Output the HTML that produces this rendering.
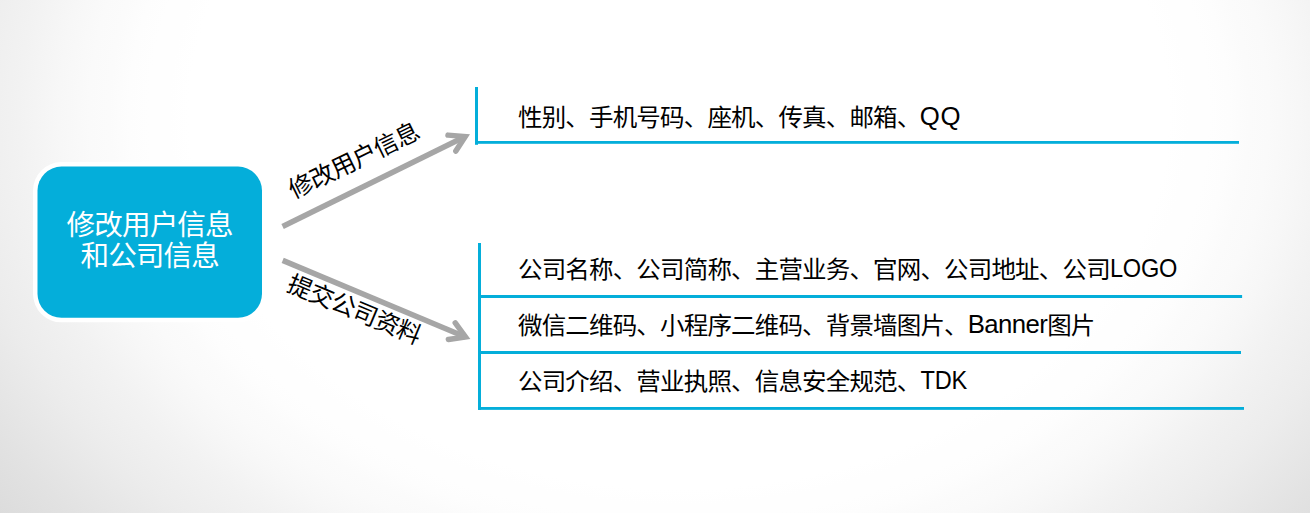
<!DOCTYPE html>
<html lang="zh-CN">
<head>
<meta charset="utf-8">
<title>修改用户信息和公司信息</title>
<style>
html,body{margin:0;padding:0;}
body{width:1310px;height:513px;overflow:hidden;position:relative;
  font-family:"Liberation Sans","Noto Sans CJK SC",sans-serif;
  background:#fff radial-gradient(ellipse 1000px 765.6px at 679px 114px,rgb(255,255,255) 0%,rgb(255,255,255) 49%,rgb(254,254,254) 51.0%,rgb(254,254,254) 53.0%,rgb(253,253,253) 55.0%,rgb(251,251,251) 57.0%,rgb(250,250,250) 59.0%,rgb(247,247,247) 62.0%,rgb(242,242,242) 66.0%,rgb(236,236,236) 72.0%,rgb(226,226,226) 80.0%,rgb(215,215,215) 90.0%,rgb(203,203,203) 100.0%) no-repeat;}
.abs{position:absolute;}
.boxtxt{left:37.2px;width:225px;text-align:center;color:#fff;font-size:28.6px;letter-spacing:-0.9px;line-height:30px;white-space:nowrap;}
.row{left:518px;font-size:23.68px;letter-spacing:-0.8px;transform:scaleX(1.035);transform-origin:0 50%;line-height:32px;height:32px;color:#000;white-space:nowrap;}
.lbl{font-size:24.3px;letter-spacing:-0.7px;line-height:32px;height:32px;color:#000;white-space:nowrap;transform-origin:50% 50%;text-align:center;width:200px;}
svg{position:absolute;left:0;top:0;}
.en{font-size:24.9px;letter-spacing:0;position:relative;top:-1px;display:inline-block;transform-origin:0 50%;}
</style>
</head>
<body>
<svg width="1310" height="513" viewBox="0 0 1310 513">
  <rect x="33" y="162.1" width="233.5" height="160.2" rx="28.5" ry="28.5" fill="#ffffff"/>
  <rect x="37.5" y="166.6" width="224.5" height="151.2" rx="24" ry="24" fill="#04aeda"/>
</svg>
<div class="abs boxtxt" style="top:209.5px">修改用户信息</div>
<div class="abs boxtxt" style="top:240.5px">和公司信息</div>

<svg width="1310" height="513" viewBox="0 0 1310 513" fill="none" stroke="#a6a6a6" stroke-width="5.5" stroke-linejoin="miter" stroke-miterlimit="10">
  <path d="M282.60 226.50L465.21 136.56"/>
  <path d="M447.97 135.12L465.21 136.56L455.84 151.10" stroke-linecap="round"/>
  <path d="M282.70 260.40L465.47 336.94"/>
  <path d="M455.24 322.99L465.47 336.94L448.36 339.43" stroke-linecap="round"/>
</svg>

<svg width="1310" height="513" viewBox="0 0 1310 513" fill="#04aeda">
  <rect x="475" y="87" width="3" height="57.8"/>
  <rect x="475" y="141" width="764" height="2.8"/>
  <rect x="478" y="243" width="3" height="166.85"/>
  <rect x="478" y="295" width="764.1" height="3"/>
  <rect x="478" y="351" width="763" height="3"/>
  <rect x="478" y="407" width="766" height="2.85"/>
</svg>
<div class="abs lbl" style="left:254px;top:145.3px;transform:rotate(-25.9deg);">修改用户信息</div>
<div class="abs lbl" style="left:253.7px;top:294px;transform:rotate(22.6deg);">提交公司资料</div>

<div class="abs row" style="top:101.2px;">性别、手机号码、座机、传真、邮箱、<span class="en" style="letter-spacing:0.5px;margin-left:-0.6px">QQ</span></div>

<div class="abs row" style="top:253.2px;">公司名称、公司简称、主营业务、官网、公司地址、公司<span class="en" style="transform:scaleX(0.915);letter-spacing:-0.3px">LOGO</span></div>
<div class="abs row" style="top:309.2px;">微信二维码、小程序二维码、背景墙图片、<span class="en" style="letter-spacing:-0.6px">Banner</span>图片</div>
<div class="abs row" style="top:365.2px;">公司介绍、营业执照、信息安全规范、<span class="en" style="transform:scaleX(0.915);letter-spacing:-0.3px">TDK</span></div>
</body>
</html>
